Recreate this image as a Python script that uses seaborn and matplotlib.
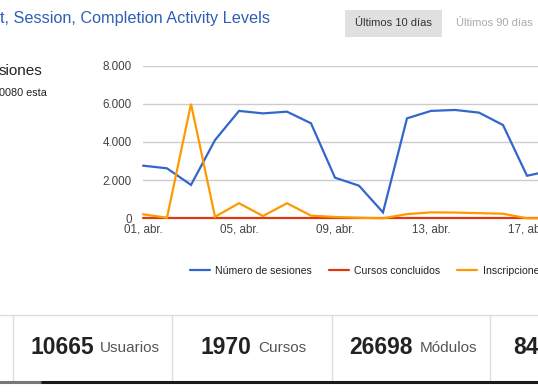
import matplotlib
matplotlib.use("Agg")
import matplotlib.pyplot as plt
import seaborn as sns
import pandas as pd
from matplotlib.lines import Line2D
from matplotlib.patches import Rectangle

# ---- data ----
days = list(range(1, 19))
sesiones = [2760, 2620, 1750, 4100, 5630, 5500, 5590, 4980, 2130, 1710, 310,
            5240, 5630, 5680, 5540, 4890, 2230, 2500]
concluidos = [0] * 18
inscripciones = [210, 30, 6000, 80, 790, 120, 790, 140, 70, 30, 0,
                 220, 310, 300, 270, 240, 0, 0]
series_names = ["Número de sesiones", "Cursos concluidos", "Inscripciones"]
series_colors = ["#3366cc", "#dc3912", "#ff9900"]
xtick_days = [1, 5, 9, 13, 17]
xtick_labels = ["01, abr.", "05, abr.", "09, abr.", "13, abr.", "17, abr."]
ytick_vals = [0, 2000, 4000, 6000, 8000]
ytick_labels = ["0", "2.000", "4.000", "6.000", "8.000"]
stat_numbers = ["10665", "1970", "26698", "84"]
stat_labels = ["Usuarios", "Cursos", "Módulos", ""]

df = pd.DataFrame({
    "day": days * 3,
    "value": sesiones + concluidos + inscripciones,
    "serie": [series_names[0]] * 18 + [series_names[1]] * 18 + [series_names[2]] * 18,
})

sns.set_theme(style="white")
plt.rcParams["font.family"] = ["Liberation Sans", "DejaVu Sans"]

W, H = 538, 392
fig = plt.figure(figsize=(W / 100, H / 100), dpi=100)
fig.patch.set_facecolor("white")

def fx(x):
    return x / W

def fy(y):
    return 1 - y / H

# axes: x from 143px (day 1) at 24 px/day, y 0 at 218.3px, 8000 at 65.7px
ax_left, ax_right = 143, 538
ax_top, ax_bot = 65.7, 218.3
ax = fig.add_axes([fx(ax_left), fy(ax_bot), (ax_right - ax_left) / W, (ax_bot - ax_top) / H])
sns.lineplot(data=df, x="day", y="value", hue="serie", palette=series_colors,
             hue_order=series_names, linewidth=1.6, ax=ax, legend=False)
for ln in ax.get_lines():
    ln.set_clip_on(False)
    ln.set_solid_joinstyle("miter")
ax.set_xlim(1, 1 + (ax_right - ax_left) / 24)
ax.set_ylim(0, 8000)
for v in ytick_vals:
    ax.axhline(v, color="#cccccc", lw=1, zorder=0)
for s in ax.spines.values():
    s.set_visible(False)
ax.set_xticks(xtick_days)
ax.set_xticklabels(xtick_labels)
ax.set_yticks(ytick_vals)
ax.set_yticklabels(ytick_labels)
ax.tick_params(axis="both", length=0, labelsize=8.4, colors="#444444")
ax.tick_params(axis="y", pad=8)
ax.tick_params(axis="x", pad=4)
ax.set_xlabel("")
ax.set_ylabel("")
ax.grid(False)

# title & header
fig.text(fx(0), fy(19), "t, Session, Completion Activity Levels", color="#2f5fb3",
         fontsize=11.7, ha="left", va="center")
fig.patches.append(Rectangle((fx(345), fy(37)), (442 - 345) / W, 27 / H,
                             transform=fig.transFigure, facecolor="#e0e0e0",
                             edgecolor="none", figure=fig))
fig.text(fx(393.5), fy(23.5), "Últimos 10 días", color="#333333", fontsize=8,
         ha="center", va="center")
fig.text(fx(494.5), fy(23.5), "Últimos 90 días", color="#aaaaaa", fontsize=8,
         ha="center", va="center")

# left side texts
fig.text(fx(-1), fy(71), "siones", color="#222222", fontsize=11, ha="left", va="center")
fig.text(fx(-1), fy(93.5), "0080 esta", color="#222222", fontsize=7.8, ha="left", va="center")

# legend
handles = [Line2D([0], [0], color=c, lw=1.6) for c in series_colors]
fig.legend(handles, series_names, loc="center left", bbox_to_anchor=(fx(190), fy(271)),
           ncol=3, frameon=False, fontsize=7.6, handlelength=1.9, handletextpad=0.5,
           columnspacing=1.6, borderpad=0, borderaxespad=0, labelcolor="#222222")

# bottom stats boxes
fig.add_artist(Line2D([0, 1], [fy(315), fy(315)], transform=fig.transFigure,
                      color="#dddddd", lw=1))
for xs in [13, 172, 332, 490]:
    fig.add_artist(Line2D([fx(xs), fx(xs)], [fy(315), fy(381)], transform=fig.transFigure,
                          color="#dddddd", lw=1))
fig.add_artist(Line2D([0, fx(42)], [fy(382), fy(382)], transform=fig.transFigure,
                      color="#777777", lw=2.2))
fig.add_artist(Line2D([fx(42), 1], [fy(382), fy(382)], transform=fig.transFigure,
                      color="#1a1a1a", lw=2.2))

num_x = [30, 200, 349, 513]
lab_x = [100, 258, 420, 560]
for n, l, nx, lx in zip(stat_numbers, stat_labels, num_x, lab_x):
    fig.text(fx(nx), fy(347), n, color="#222222", fontsize=16.5, fontweight="bold",
             ha="left", va="center")
    if l:
        fig.text(fx(lx), fy(348), l, color="#555555", fontsize=11, ha="left", va="center")

fig.savefig("out.png", dpi=100, facecolor="white")
